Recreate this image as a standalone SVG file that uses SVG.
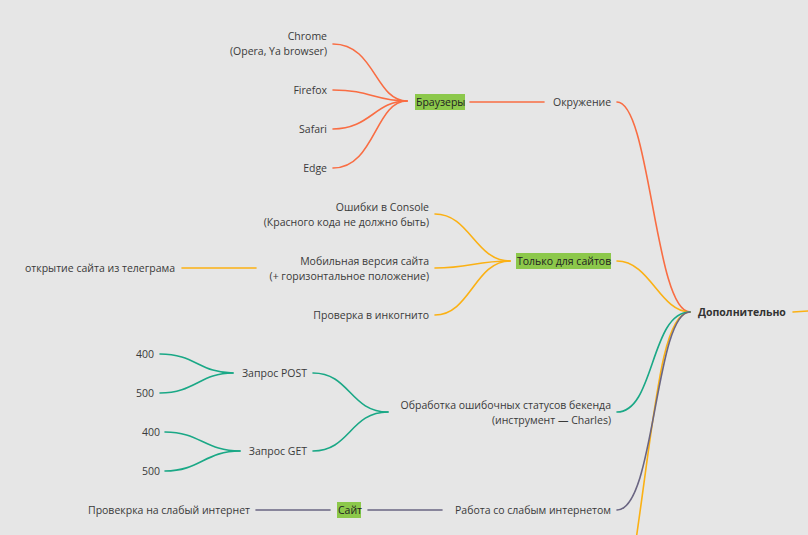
<svg xmlns="http://www.w3.org/2000/svg" width="808" height="535" viewBox="0 0 808 535">
<style>
text{font-family:"Open Sans","Noto Sans","Liberation Sans",sans-serif;font-size:10.5px;fill:#3a3a3a}
.e{text-anchor:end}
.b{font-weight:bold;fill:#333}
.hl{fill:#8cc84b}
.hlt{fill:#222}
path{fill:none;stroke-width:1.6;stroke-linecap:round}
.r{stroke:#f96d43}
.y{stroke:#fbb114}
.t{stroke:#1aa886}
.p{stroke:#6a6582}
</style>
<rect width="808" height="535" fill="#e6e6e6"/>
<g id="connectors">
<path class="r" d="M333,44 C375,44 375,101 407,101"/>
<path class="r" d="M333,90 C370,90 375,101 407,101"/>
<path class="r" d="M333,129 C370,129 375,101 407,101"/>
<path class="r" d="M333,168 C375,168 375,101 407,101"/>
<path class="r" d="M470,102 L544,102"/>
<path class="r" d="M617,102 C650,102 655,312 690,312"/>
<path class="y" d="M435,214 C470,214 475,261 510,261"/>
<path class="y" d="M435,268 C470,268 475,261 510,261"/>
<path class="y" d="M435,315 C470,315 475,261 510,261"/>
<path class="y" d="M182,268 L256,268"/>
<path class="y" d="M617,261 C650,261 660,312 690,312"/>
<path class="y" d="M793,312 L808,311"/>
<path class="y" d="M690,312 C662,312 655,410 636,540"/>
<path class="t" d="M160,354 C195,354 200,373 233,373"/>
<path class="t" d="M160,393 C195,393 200,373 233,373"/>
<path class="t" d="M165,432 C200,432 205,451 240,451"/>
<path class="t" d="M165,471 C200,471 205,451 240,451"/>
<path class="t" d="M313,373 C350,373 350,412 388,412"/>
<path class="t" d="M313,451 C350,451 350,412 388,412"/>
<path class="t" d="M617,412 C655,412 650,312 690,312"/>
<path class="p" d="M256,510 L330,510"/>
<path class="p" d="M368,510 L442,510"/>
<path class="p" d="M617,510 C655,510 655,312 690,312"/>
</g>
<g id="n-dop"><text class="b" x="698" y="316">Дополнительно</text></g>
<g id="n-okr"><text x="553" y="106">Окружение</text></g>
<g id="n-br"><rect class="hl" x="415" y="94" width="50" height="16"/><text class="hlt" x="416" y="106">Браузеры</text></g>
<g id="n-chrome"><text class="e" x="327" y="40">Chrome</text><text class="e" x="327" y="55">(Opera, Ya browser)</text></g>
<g id="n-ff"><text class="e" x="327" y="94">Firefox</text></g>
<g id="n-saf"><text class="e" x="327" y="133">Safari</text></g>
<g id="n-edge"><text class="e" x="327" y="172">Edge</text></g>
<g id="n-sites"><rect class="hl" x="516" y="253" width="95" height="16"/><text class="hlt" x="517" y="265">Только для сайтов</text></g>
<g id="n-console"><text class="e" x="429" y="211">Ошибки в Console</text><text class="e" x="429" y="226">(Красного кода не должно быть)</text></g>
<g id="n-mob"><text class="e" x="429" y="265">Мобильная версия сайта</text><text class="e" x="429" y="280">(+ горизонтальное положение)</text></g>
<g id="n-tg"><text class="e" x="175" y="272">открытие сайта из телеграма</text></g>
<g id="n-inc"><text class="e" x="429" y="319">Проверка в инкогнито</text></g>
<g id="n-err"><text class="e" x="611" y="409">Обработка ошибочных статусов бекенда</text><text class="e" x="611" y="424">(инструмент — Charles)</text></g>
<g id="n-post"><text class="e" x="307" y="377">Запрос POST</text></g>
<g id="n-get"><text class="e" x="307" y="455">Запрос GET</text></g>
<g id="n-p400"><text class="e" x="154" y="358">400</text></g>
<g id="n-p500"><text class="e" x="154" y="397">500</text></g>
<g id="n-g400"><text class="e" x="160" y="436">400</text></g>
<g id="n-g500"><text class="e" x="160" y="475">500</text></g>
<g id="n-slow"><text class="e" x="611" y="514">Работа со слабым интернетом</text></g>
<g id="n-site"><rect class="hl" x="337" y="502" width="24" height="16"/><text class="hlt" x="338" y="514">Сайт</text></g>
<g id="n-check"><text class="e" x="250" y="514">Провекрка на слабый интернет</text></g>
</svg>
